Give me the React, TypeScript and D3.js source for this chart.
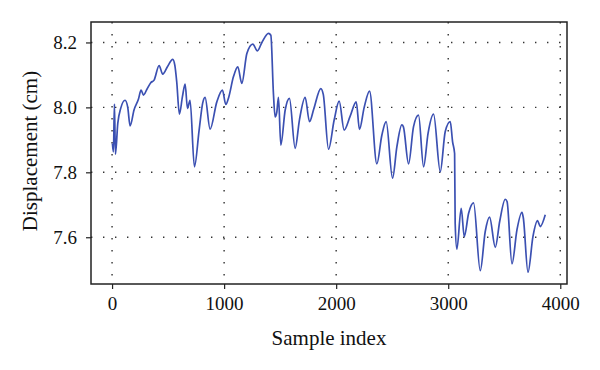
import React, { useEffect, useRef } from 'react';
import * as d3 from 'd3';

// sample index / displacement (cm)
const sampleIdx = [
  3, 12, 21, 30, 51, 77, 116, 140, 161, 196, 235, 259, 280, 310, 345, 375, 420, 452, 494, 542, 560, 577,
  601, 628, 652, 673, 696, 735, 777, 809, 830, 875, 935, 985, 1015, 1040, 1083, 1122, 1158, 1203, 1256,
  1297, 1336, 1396, 1417, 1440, 1455, 1470, 1485, 1506, 1545, 1583, 1634, 1672, 1723, 1762, 1800, 1863,
  1885, 1932, 1982, 2027, 2071, 2125, 2179, 2208, 2250, 2298, 2363, 2408, 2446, 2503, 2542, 2586, 2600,
  2646, 2690, 2735, 2780, 2820, 2869, 2929, 2973, 3018, 3039, 3057, 3062, 3077, 3116, 3143, 3182, 3226,
  3286, 3330, 3369, 3420, 3460, 3509, 3525, 3569, 3613, 3658, 3670, 3712, 3756, 3797, 3821, 3866,
];
const displacement = [
  7.889, 7.863, 8.01, 7.856, 7.951, 7.997, 8.022, 8.0, 7.943, 7.992, 8.025, 8.053, 8.038, 8.055, 8.076,
  8.084, 8.129, 8.102, 8.125, 8.148, 8.13, 8.079, 7.979, 8.033, 8.072, 7.997, 8.022, 7.817, 7.93, 8.014,
  8.031, 7.933, 8.017, 8.053, 8.009, 8.03, 8.094, 8.125, 8.074, 8.166, 8.195, 8.174, 8.199, 8.228, 8.222,
  8.043, 7.971, 7.985, 8.031, 7.884, 7.992, 8.028, 7.874, 7.961, 8.031, 7.956, 7.995, 8.058, 8.04, 7.871,
  7.961, 8.019, 7.93, 7.973, 8.017, 7.932, 8.0, 8.05, 7.826, 7.915, 7.956, 7.782, 7.879, 7.946, 7.94,
  7.826, 7.94, 7.976, 7.817, 7.92, 7.979, 7.802, 7.925, 7.956, 7.894, 7.858, 7.643, 7.563, 7.689, 7.602,
  7.674, 7.706, 7.497, 7.617, 7.662, 7.569, 7.65, 7.717, 7.71, 7.518, 7.622, 7.677, 7.66, 7.492, 7.602,
  7.651, 7.633, 7.669,
];
const xTicks = [0, 1000, 2000, 3000, 4000];
const yTicks = [7.6, 7.8, 8.0, 8.2];

const W = 600;
const H = 370;
const margin = { top: 22, right: 33, bottom: 86, left: 91 };
const FONT = 'Liberation Serif, DejaVu Serif, serif';

const App: React.FC = () => {
  const ref = useRef<SVGSVGElement>(null);

  useEffect(() => {
    const svg = d3.select(ref.current);
    svg.selectAll('*').remove();
    const width = W - margin.left - margin.right;
    const height = H - margin.top - margin.bottom;

    const x = d3.scaleLinear().domain([-188, 4060]).range([0, width]);
    const y = d3.scaleLinear().domain([7.456, 8.263]).range([height, 0]);

    const g = svg.append('g').attr('transform', `translate(${margin.left},${margin.top})`);

    // dotted grid
    g.selectAll('.vgrid')
      .data(xTicks)
      .enter().append('line')
      .attr('x1', d => x(d)).attr('x2', d => x(d))
      .attr('y1', 0).attr('y2', height)
      .attr('stroke', '#333').attr('stroke-width', 1.4)
      .attr('stroke-dasharray', '1.4,10.6');
    g.selectAll('.hgrid')
      .data(yTicks)
      .enter().append('line')
      .attr('x1', 0).attr('x2', width)
      .attr('y1', d => y(d)).attr('y2', d => y(d))
      .attr('stroke', '#333').attr('stroke-width', 1.4)
      .attr('stroke-dasharray', '1.4,10.6');

    const line = d3.line<number>()
      .x((_, i) => x(sampleIdx[i]))
      .y(d => y(d))
      .curve(d3.curveMonotoneX);

    g.append('path')
      .datum(displacement)
      .attr('d', line)
      .attr('fill', 'none')
      .attr('stroke', '#3b50b2')
      .attr('stroke-width', 1.7)
      .attr('stroke-linejoin', 'round');

    // axes
    const xAxis = g.append('g')
      .attr('transform', `translate(0,${height})`)
      .call(d3.axisBottom(x).tickValues(xTicks).tickSize(5).tickPadding(8).tickFormat(d3.format('d')));
    const yAxis = g.append('g')
      .call(d3.axisLeft(y).tickValues(yTicks).tickSize(5).tickPadding(9).tickFormat(d3.format('.1f')));
    [xAxis, yAxis].forEach(a => {
      a.attr('font-family', FONT).attr('font-size', 19);
      a.select('.domain').remove();
      a.selectAll('line').attr('stroke', '#222').attr('stroke-width', 1.2);
      a.selectAll('text').attr('fill', '#111');
    });

    g.append('rect')
      .attr('width', width).attr('height', height)
      .attr('fill', 'none').attr('stroke', '#222').attr('stroke-width', 1.5);

    svg.append('text')
      .attr('x', 329).attr('y', 345)
      .attr('text-anchor', 'middle')
      .attr('font-family', FONT)
      .attr('font-size', 21).attr('fill', '#111')
      .text('Sample index');

    svg.append('text')
      .attr('transform', `translate(37,${margin.top + height / 2 - 2}) rotate(-90)`)
      .attr('text-anchor', 'middle')
      .attr('font-family', FONT)
      .attr('font-size', 21).attr('fill', '#111')
      .text('Displacement (cm)');
  }, []);

  return (
    <svg ref={ref} width={W} height={H} style={{ position: 'absolute', left: 0, top: 0 }} />
  );
};

export default App;
